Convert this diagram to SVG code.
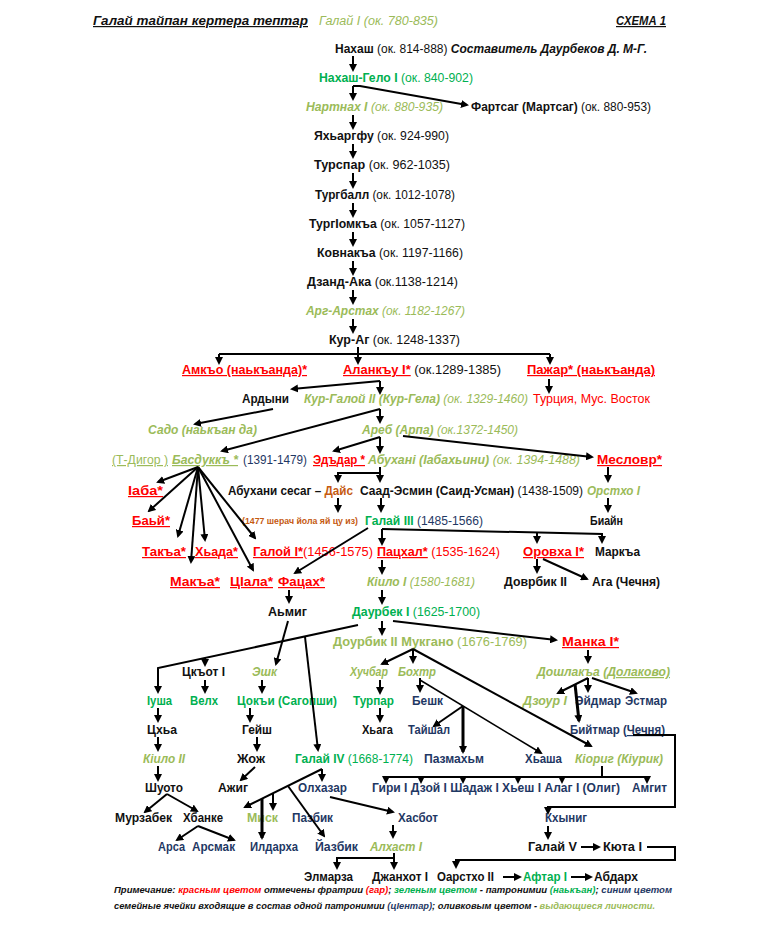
<svg xmlns="http://www.w3.org/2000/svg" width="768" height="926" viewBox="0 0 768 926">
<style>
.t{font-family:"Liberation Sans",Arial,sans-serif;font-size:12px;fill:#111}
.b{font-weight:bold}.n{font-weight:normal}.i{font-style:italic}.u{text-decoration:underline}
.red{fill:#ff0000}.grn{fill:#00b050}.olv{fill:#9bbb59}.nav{fill:#1f3864}.org{fill:#c55a11}.blk{fill:#111}
.sm{font-size:9px}.ft{font-size:9px;font-style:italic;font-weight:bold}
.c{fill:none;stroke:#000;stroke-width:2;marker-end:url(#ah)}
.l{fill:none;stroke:#000;stroke-width:2}
.k{stroke-width:3}.th{stroke-width:1.5}
</style>
<defs>
<marker id="ah" viewBox="0 0 10 10" refX="7.5" refY="5" markerWidth="8" markerHeight="8" markerUnits="userSpaceOnUse" orient="auto"><path d="M0,0 L10,5 L0,10 z" fill="#000"/></marker>
</defs>
<rect width="768" height="926" fill="#fff"/>

<g id="header">
<text class="t b i u" x="93" y="25" textLength="215" lengthAdjust="spacingAndGlyphs">Галай тайпан кертера тептар</text>
<text class="t i olv" x="319" y="25" textLength="119" lengthAdjust="spacingAndGlyphs">Галай I (ок. 780-835)</text>
<text class="t b i u" x="616" y="25" textLength="50" lengthAdjust="spacingAndGlyphs">СХЕМА 1</text>
</g>

<g id="n-nakhash"><text class="t" x="335" y="53" textLength="312" lengthAdjust="spacingAndGlyphs"><tspan class="b">Нахаш</tspan> (ок. 814-888) <tspan class="b i">Составитель Даурбеков Д. М-Г.</tspan></text></g>
<g id="n-gelo"><text class="t grn" x="319" y="82" textLength="154" lengthAdjust="spacingAndGlyphs"><tspan class="b">Нахаш-Гело I</tspan> (ок. 840-902)</text></g>
<g id="n-nartnakh"><text class="t i olv" x="306" y="111" textLength="137" lengthAdjust="spacingAndGlyphs"><tspan class="b">Нартнах I</tspan> (ок. 880-935)</text></g>
<g id="n-fartsag"><text class="t" x="471" y="111" textLength="180" lengthAdjust="spacingAndGlyphs"><tspan class="b">Фартсаг (Мартсаг)</tspan> (ок. 880-953)</text></g>
<g id="n-yakh"><text class="t" x="314" y="140" textLength="135" lengthAdjust="spacingAndGlyphs"><tspan class="b">Яхьаргфу</tspan> (ок. 924-990)</text></g>
<g id="n-turspar"><text class="t" x="314" y="169" textLength="136" lengthAdjust="spacingAndGlyphs"><tspan class="b">Турспар</tspan> (ок. 962-1035)</text></g>
<g id="n-turball"><text class="t" x="315" y="199" textLength="140" lengthAdjust="spacingAndGlyphs"><tspan class="b">Тургбалл</tspan> (ок. 1012-1078)</text></g>
<g id="n-turgiomka"><text class="t" x="309" y="228" textLength="156" lengthAdjust="spacingAndGlyphs"><tspan class="b">ТургIомкъа</tspan> (ок. 1057-1127)</text></g>
<g id="n-kovnaka"><text class="t" x="317" y="257" textLength="146" lengthAdjust="spacingAndGlyphs"><tspan class="b">Ковнакъа</tspan> (ок. 1197-1166)</text></g>
<g id="n-dzand"><text class="t" x="307" y="286" textLength="151" lengthAdjust="spacingAndGlyphs"><tspan class="b">Дзанд-Ака</tspan> (ок.1138-1214)</text></g>
<g id="n-arg"><text class="t i olv" x="306" y="315" textLength="159" lengthAdjust="spacingAndGlyphs"><tspan class="b">Арг-Арстах</tspan> (ок. 1182-1267)</text></g>
<g id="n-kurag"><text class="t" x="329" y="344" textLength="131" lengthAdjust="spacingAndGlyphs"><tspan class="b">Кур-Аг</tspan> (ок. 1248-1337)</text></g>

<g id="n-amko"><text class="t b red u" x="182" y="374" textLength="125" lengthAdjust="spacingAndGlyphs">Амкъо (наькъанда)*</text></g>
<g id="n-alanku"><text class="t" x="343" y="374" textLength="158" lengthAdjust="spacingAndGlyphs"><tspan class="b red u">Аланкъу I*</tspan> (ок.1289-1385)</text></g>
<g id="n-pazhar"><text class="t b red u" x="527" y="374" textLength="128" lengthAdjust="spacingAndGlyphs">Пажар* (наькъанда)</text></g>

<g id="n-ardyni"><text class="t b" x="242" y="403" textLength="47" lengthAdjust="spacingAndGlyphs">Ардыни</text></g>
<g id="n-kurgaloy"><text class="t i olv" x="304" y="403" textLength="224" lengthAdjust="spacingAndGlyphs"><tspan class="b">Кур-Галой II (Кур-Гела)</tspan> (ок. 1329-1460)</text></g>
<g id="n-turkey"><text class="t red" x="533" y="403" textLength="117" lengthAdjust="spacingAndGlyphs">Турция, Мус. Восток</text></g>

<g id="n-sado"><text class="t b i olv" x="148" y="434" textLength="109" lengthAdjust="spacingAndGlyphs">Садо (наькъан да)</text></g>
<g id="n-areb"><text class="t i olv" x="362" y="434" textLength="156" lengthAdjust="spacingAndGlyphs"><tspan class="b">Ареб (Арпа)</tspan> (ок.1372-1450)</text></g>

<g id="n-tdigor"><text class="t olv u" x="112" y="464" textLength="56" lengthAdjust="spacingAndGlyphs">(Т-Дигор )</text></g>
<g id="n-basdukk"><text class="t b i olv u" x="172" y="464" textLength="66" lengthAdjust="spacingAndGlyphs">Басдуккъ *</text><text class="t nav" x="243" y="464" textLength="64" lengthAdjust="spacingAndGlyphs">(1391-1479)</text></g>
<g id="n-eddar"><text class="t b red u" x="313" y="464" textLength="52" lengthAdjust="spacingAndGlyphs">Эдъдар *</text></g>
<g id="n-abukhani"><text class="t i olv" x="368" y="464" textLength="212" lengthAdjust="spacingAndGlyphs"><tspan class="b">Абухані (Іабахьини)</tspan> (ок. 1394-1488)</text></g>
<g id="n-meslovr"><text class="t b red u" x="597" y="464" textLength="65" lengthAdjust="spacingAndGlyphs">Месловр*</text></g>

<g id="n-iaba"><text class="t b red u" x="128" y="495" textLength="35" lengthAdjust="spacingAndGlyphs">Іаба*</text></g>
<g id="n-sesag"><text class="t b" x="228" y="495" textLength="125" lengthAdjust="spacingAndGlyphs">Абухани сесаг – <tspan class="org">Дайс</tspan></text></g>
<g id="n-saad"><text class="t" x="360" y="495" textLength="223" lengthAdjust="spacingAndGlyphs"><tspan class="b">Саад-Эсмин (Саид-Усман)</tspan> (1438-1509)</text></g>
<g id="n-orstkho"><text class="t b i olv" x="587" y="495" textLength="53" lengthAdjust="spacingAndGlyphs">Орстхо I</text></g>

<g id="n-bay"><text class="t b red u" x="132" y="525" textLength="38" lengthAdjust="spacingAndGlyphs">Баьй*</text></g>
<g id="n-note1477"><text class="t sm b org" x="242" y="524" textLength="116" lengthAdjust="spacingAndGlyphs">(1477 шерач йола яй цу из)</text></g>
<g id="n-galay3"><text class="t nav" x="365" y="525" textLength="118" lengthAdjust="spacingAndGlyphs"><tspan class="b grn">Галай III</tspan> (1485-1566)</text></g>
<g id="n-biayn"><text class="t b" x="590" y="525" textLength="33" lengthAdjust="spacingAndGlyphs">Биайн</text></g>

<g id="n-taka"><text class="t b red u" x="142" y="556" textLength="44" lengthAdjust="spacingAndGlyphs">Такъа*</text></g>
<g id="n-khada"><text class="t b red u" x="195" y="556" textLength="43" lengthAdjust="spacingAndGlyphs">Хьада*</text></g>
<g id="n-galoy1"><text class="t red" x="253" y="556" textLength="120" lengthAdjust="spacingAndGlyphs"><tspan class="b u">Галой I*</tspan>(1456-1575)</text></g>
<g id="n-patskhal"><text class="t red" x="377" y="556" textLength="123" lengthAdjust="spacingAndGlyphs"><tspan class="b u">Пацхал*</tspan> (1535-1624)</text></g>
<g id="n-orovkha"><text class="t b red u" x="523" y="556" textLength="61" lengthAdjust="spacingAndGlyphs">Оровха I*</text></g>
<g id="n-marka"><text class="t b" x="595" y="556" textLength="45" lengthAdjust="spacingAndGlyphs">Маркъа</text></g>

<g id="n-maka"><text class="t b red u" x="170" y="586" textLength="50" lengthAdjust="spacingAndGlyphs">Макъа*</text></g>
<g id="n-tsala"><text class="t b red u" x="230" y="586" textLength="43" lengthAdjust="spacingAndGlyphs">ЦIала*</text></g>
<g id="n-fatsakh"><text class="t b red u" x="278" y="586" textLength="47" lengthAdjust="spacingAndGlyphs">Фацах*</text></g>
<g id="n-kiilo1"><text class="t i olv" x="367" y="586" textLength="108" lengthAdjust="spacingAndGlyphs"><tspan class="b">Кіило I</tspan> (1580-1681)</text></g>
<g id="n-dovrbik2"><text class="t b" x="504" y="586" textLength="63" lengthAdjust="spacingAndGlyphs">Доврбик II</text></g>
<g id="n-aga"><text class="t b" x="592" y="586" textLength="68" lengthAdjust="spacingAndGlyphs">Ага  (Чечня)</text></g>

<g id="n-amig"><text class="t b" x="268" y="616" textLength="39" lengthAdjust="spacingAndGlyphs">Аьмиг</text></g>
<g id="n-daurbek1"><text class="t grn" x="352" y="616" textLength="128" lengthAdjust="spacingAndGlyphs"><tspan class="b">Даурбек I</tspan> (1625-1700)</text></g>

<g id="n-dourbik2"><text class="t olv" x="333" y="646" textLength="194" lengthAdjust="spacingAndGlyphs"><tspan class="b">Доурбик II Мукгано</tspan>  (1676-1769)</text></g>
<g id="n-manka"><text class="t b red u" x="562" y="646" textLength="57" lengthAdjust="spacingAndGlyphs">Манка I*</text></g>

<g id="n-tskot"><text class="t b" x="182" y="676" textLength="43" lengthAdjust="spacingAndGlyphs">Цкъот I</text></g>
<g id="n-eshk"><text class="t b i olv" x="252" y="676" textLength="25" lengthAdjust="spacingAndGlyphs">Эшк</text></g>
<g id="n-khuchbar"><text class="t b i olv" x="350" y="676" textLength="38" lengthAdjust="spacingAndGlyphs">Хучбар</text></g>
<g id="n-bokhtr"><text class="t b i olv" x="398" y="676" textLength="38" lengthAdjust="spacingAndGlyphs">Бохтр</text></g>
<g id="n-doshlaka"><text class="t b i olv" x="537" y="676" textLength="133" lengthAdjust="spacingAndGlyphs">Дошлакъа <tspan class="u">(Долаково)</tspan></text></g>

<g id="n-iusha"><text class="t b grn" x="147" y="705" textLength="25" lengthAdjust="spacingAndGlyphs">Iуша</text></g>
<g id="n-velkh"><text class="t b grn" x="190" y="705" textLength="28" lengthAdjust="spacingAndGlyphs">Велх</text></g>
<g id="n-tsoki"><text class="t b grn" x="237" y="705" textLength="100" lengthAdjust="spacingAndGlyphs">Цокъи (Сагопши)</text></g>
<g id="n-turpar"><text class="t b grn" x="353" y="705" textLength="41" lengthAdjust="spacingAndGlyphs">Турпар</text></g>
<g id="n-beshk"><text class="t b nav" x="412" y="705" textLength="31" lengthAdjust="spacingAndGlyphs">Бешк</text></g>
<g id="n-dzour"><text class="t b i olv" x="523" y="705" textLength="44" lengthAdjust="spacingAndGlyphs">Дзоур I</text></g>
<g id="n-eydmar"><text class="t b nav" x="575" y="705" textLength="46" lengthAdjust="spacingAndGlyphs">Эйдмар</text></g>
<g id="n-estmar"><text class="t b nav" x="625" y="705" textLength="42" lengthAdjust="spacingAndGlyphs">Эстмар</text></g>

<g id="n-tskha"><text class="t b" x="147" y="734" textLength="30" lengthAdjust="spacingAndGlyphs">Цхьа</text></g>
<g id="n-geysh"><text class="t b" x="242" y="734" textLength="30" lengthAdjust="spacingAndGlyphs">Гейш</text></g>
<g id="n-khaga"><text class="t b" x="362" y="734" textLength="31" lengthAdjust="spacingAndGlyphs">Хьага</text></g>
<g id="n-tayshal"><text class="t b nav" x="408" y="734" textLength="42" lengthAdjust="spacingAndGlyphs">Тайшал</text></g>
<g id="n-biytmar"><text class="t b nav" x="570" y="734" textLength="95" lengthAdjust="spacingAndGlyphs">Бийтмар  (<tspan class="u">Чечня</tspan>)</text></g>

<g id="n-kiilo2"><text class="t b i olv" x="143" y="763" textLength="42" lengthAdjust="spacingAndGlyphs">Кіило II</text></g>
<g id="n-zhozh"><text class="t b" x="237" y="763" textLength="28" lengthAdjust="spacingAndGlyphs">Жож</text></g>
<g id="n-galay4"><text class="t grn" x="295" y="763" textLength="118" lengthAdjust="spacingAndGlyphs"><tspan class="b">Галай IV</tspan> (1668-1774)</text></g>
<g id="n-pazmakhm"><text class="t b nav" x="424" y="763" textLength="60" lengthAdjust="spacingAndGlyphs">Пазмахьм</text></g>
<g id="n-khasha"><text class="t b nav" x="525" y="763" textLength="37" lengthAdjust="spacingAndGlyphs">Хьаша</text></g>
<g id="n-kiorig"><text class="t b i olv" x="575" y="763" textLength="88" lengthAdjust="spacingAndGlyphs">Кіориг (Кіурик)</text></g>

<g id="n-shuoto"><text class="t b" x="145" y="792" textLength="38" lengthAdjust="spacingAndGlyphs">Шуото</text></g>
<g id="n-azhig"><text class="t b" x="218" y="792" textLength="30" lengthAdjust="spacingAndGlyphs">Ажиг</text></g>
<g id="n-olkhazar"><text class="t b nav" x="298" y="792" textLength="49" lengthAdjust="spacingAndGlyphs">Олхазар</text></g>
<g id="n-giri"><text class="t b nav" x="372" y="792" textLength="248" lengthAdjust="spacingAndGlyphs">Гири I Дзой I Шадаж I Хьеш I  Алаг I (Олиг)</text></g>
<g id="n-amgit"><text class="t b nav" x="632" y="792" textLength="35" lengthAdjust="spacingAndGlyphs">Амгит</text></g>

<g id="n-murzabek"><text class="t b" x="115" y="822" textLength="57" lengthAdjust="spacingAndGlyphs">Мурзабек</text></g>
<g id="n-khbanke"><text class="t b" x="183" y="822" textLength="40" lengthAdjust="spacingAndGlyphs">Хбанке</text></g>
<g id="n-misk"><text class="t b olv" x="247" y="822" textLength="31" lengthAdjust="spacingAndGlyphs">Миск</text></g>
<g id="n-pazbik"><text class="t b nav" x="292" y="822" textLength="41" lengthAdjust="spacingAndGlyphs">Пазбик</text></g>
<g id="n-khasbot"><text class="t b nav" x="398" y="822" textLength="40" lengthAdjust="spacingAndGlyphs">Хасбот</text></g>
<g id="n-khynig"><text class="t b nav" x="545" y="822" textLength="42" lengthAdjust="spacingAndGlyphs">Кхыниг</text></g>

<g id="n-arsa"><text class="t b nav" x="158" y="851" textLength="27" lengthAdjust="spacingAndGlyphs">Арса</text></g>
<g id="n-arsmak"><text class="t b nav" x="192" y="851" textLength="43" lengthAdjust="spacingAndGlyphs">Арсмак</text></g>
<g id="n-ildarkha"><text class="t b nav" x="250" y="851" textLength="48" lengthAdjust="spacingAndGlyphs">Илдарха</text></g>
<g id="n-yazbik"><text class="t b nav" x="315" y="851" textLength="43" lengthAdjust="spacingAndGlyphs">Йазбик</text></g>
<g id="n-alkhast"><text class="t b i olv" x="370" y="851" textLength="52" lengthAdjust="spacingAndGlyphs">Алхаст I</text></g>
<g id="n-galay5"><text class="t b" x="528" y="851" textLength="49" lengthAdjust="spacingAndGlyphs">Галай  V</text></g>
<g id="n-kyuta"><text class="t b" x="603" y="851" textLength="39" lengthAdjust="spacingAndGlyphs">Кюта I</text></g>

<g id="n-elmarza"><text class="t b" x="304" y="881" textLength="49" lengthAdjust="spacingAndGlyphs">Элмарза</text></g>
<g id="n-dzhankhot"><text class="t b" x="372" y="881" textLength="56" lengthAdjust="spacingAndGlyphs">Джанхот I</text></g>
<g id="n-oarstkho2"><text class="t b" x="437" y="881" textLength="57" lengthAdjust="spacingAndGlyphs">Оарстхо II</text></g>
<g id="n-aftar"><text class="t b grn" x="523" y="881" textLength="44" lengthAdjust="spacingAndGlyphs">Афтар I</text></g>
<g id="n-abdarkh"><text class="t b" x="594" y="881" textLength="44" lengthAdjust="spacingAndGlyphs">Абдарх</text></g>

<g id="footer">
<text class="t ft" x="114" y="893" textLength="558" lengthAdjust="spacingAndGlyphs">Примечание: <tspan class="red">красным цветом</tspan> отмечены фратрии <tspan class="red">(гар)</tspan>; <tspan class="grn">зеленым цветом</tspan> - патронимии <tspan class="grn">(наькъан)</tspan>;  <tspan class="nav">синим цветом</tspan></text>
<text class="t ft" x="114" y="909" textLength="541" lengthAdjust="spacingAndGlyphs">семейные ячейки входящие в состав одной патронимии <tspan class="nav">(цIентар)</tspan>; оливковым цветом - <tspan class="olv">выдающиеся личности.</tspan></text>
</g>

<g id="connectors">
<path class="c" d="M353,56 V70"/>
<path class="c" d="M353,86 V99"/>
<path class="c" d="M353,86 H360 L467,105"/>
<path class="c" d="M353,115 V128"/>
<path class="c" d="M353,144 V157"/>
<path class="c" d="M353,173 V187"/>
<path class="c" d="M353,203 V216"/>
<path class="c" d="M353,232 V245"/>
<path class="c" d="M353,261 V274"/>
<path class="c" d="M353,290 V303"/>
<path class="c" d="M353,319 V332"/>
<path class="c" d="M358,347 V363"/>
<path class="l" d="M219,354 H550"/>
<path class="c" d="M219,354 V363"/>
<path class="c" d="M550,354 V363"/>
<path class="c" d="M380,381 L292,389"/>
<path class="c" d="M380,381 V393"/>
<path class="c" d="M549,379 V392"/>
<path class="c" d="M380,409 L222,451"/>
<path class="c" d="M380,409 V422"/>
<path class="c" d="M273,409 L195,424"/>
<path class="c" d="M380,437 L334,451"/>
<path class="c" d="M380,437 V452"/>
<path class="c" d="M403,436 L592,457"/>
<path class="c" d="M198,467 L158,482"/>
<path class="c" d="M198,467 L149,511"/>
<path class="c" d="M198,467 L178,536"/>
<path class="c" d="M198,467 L191,562"/>
<path class="c" d="M198,467 L205,540"/>
<path class="c" d="M198,467 L253,570"/>
<path class="c" d="M198,467 L255,538"/>
<path class="c" d="M380,467 V481"/>
<path class="c" d="M380,473 H338 V481"/>
<path class="c" d="M608,467 V481"/>
<path class="c" d="M608,498 V511"/>
<path class="c" d="M338,498 V511"/>
<path class="c" d="M381,498 V511"/>
<path class="c" d="M368,528 L295,573"/>
<path class="c" d="M382,529 V544"/>
<path class="c" d="M382,529 L602,534 V542"/>
<path class="c" d="M537,532 V542"/>
<path class="c" d="M537,559 V572"/>
<path class="c" d="M543,559 L587,579"/>
<path class="c" d="M382,560 V573"/>
<path class="c" d="M382,590 V603"/>
<path class="c" d="M289,590 V602"/>
<path class="c" d="M358,625 L158,668 V692"/>
<path class="c" d="M205,658 V665"/>
<path class="c" d="M305,637 L318,750"/>
<path class="c" d="M382,621 V634"/>
<path class="c" d="M393,621 L556,640"/>
<path class="c" d="M288,621 L276,664"/>
<path class="c" d="M413,649 L382,664"/>
<path class="c" d="M413,649 V662"/>
<path class="c" d="M413,649 L591,746" stroke-width="2.5"/>
<path class="c" d="M588,650 V662"/>
<path class="c" d="M205,680 V692"/>
<path class="c" d="M262,680 V692"/>
<path class="c" d="M380,680 V693"/>
<path class="c" d="M420,678 V691"/>
<path class="c th" d="M420,680 L541,753"/>
<path class="c" d="M588,678 L558,693"/>
<path class="c" d="M588,678 V691"/>
<path class="c" d="M592,678 L636,693"/>
<path class="c k" d="M575,684 L579,721"/>
<path class="c" d="M158,708 V721"/>
<path class="c" d="M250,708 V721"/>
<path class="c" d="M380,708 V721"/>
<path class="c" d="M463,706 L434,726"/>
<path class="c k" d="M463,706 V752"/>
<path class="c" d="M158,737 V750"/>
<path class="c" d="M257,737 V750"/>
<path class="c" d="M633,735 H675 V807 H548 V813"/>
<path class="l" d="M602,766 V777 M386,777 H647"/>
<path class="c" d="M386,777 V782"/>
<path class="c" d="M421,777 V782"/>
<path class="c" d="M463,777 V782"/>
<path class="c" d="M518,777 V782"/>
<path class="c" d="M562,777 V782"/>
<path class="c" d="M647,777 V782"/>
<path class="c" d="M158,766 V780"/>
<path class="c" d="M255,767 L241,780"/>
<path class="c" d="M322,769 V780"/>
<path class="c" d="M322,769 L245,807"/>
<path class="c" d="M273,793 V809"/>
<path class="c k" d="M262,799 V838"/>
<path class="c" d="M288,786 L324,836"/>
<path class="c" d="M330,797 L393,812"/>
<path class="c" d="M393,825 V837"/>
<path class="c" d="M394,853 V868"/>
<path class="c" d="M394,858 H337 V868"/>
<path class="c" d="M167,794 L145,812"/>
<path class="c" d="M167,794 L197,811"/>
<path class="c" d="M198,826 L177,840"/>
<path class="c" d="M198,826 L234,840"/>
<path class="c" d="M548,826 V838"/>
<path class="c" d="M581,847 H599"/>
<path class="c" d="M647,847 H675 V860 H456 V867"/>
<path class="c" d="M503,877 H520"/>
<path class="c" d="M571,877 H591"/>
</g>
</svg>
